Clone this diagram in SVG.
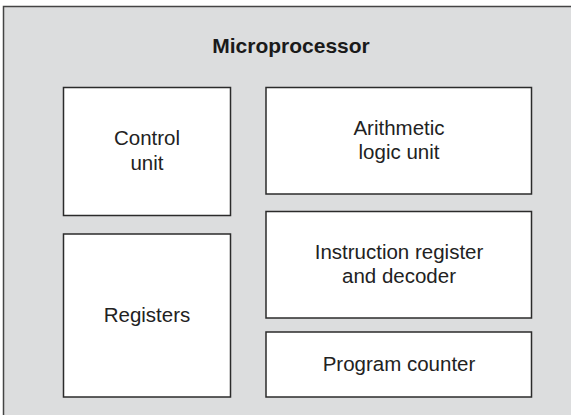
<svg xmlns="http://www.w3.org/2000/svg" width="571" height="415" viewBox="0 0 571 415">
  <style>
    .frame { fill: #dcddde; stroke: #444; stroke-width: 1.5; }
    .unit { fill: #ffffff; stroke: #2b2b2b; stroke-width: 1.5; }
    .label { font-family: "Liberation Sans", Arial, sans-serif; font-size: 20.5px; fill: #222; text-anchor: middle; }
    .title { font-family: "Liberation Sans", Arial, sans-serif; font-size: 21px; font-weight: bold; fill: #1a1a1a; text-anchor: middle; }
  </style>

  <!-- enclosing microprocessor block -->
  <g id="microprocessor">
    <rect class="frame" x="3.5" y="6.5" width="600" height="500"/>
    <text class="title" x="291" y="53">Microprocessor</text>
  </g>

  <g id="control-unit">
    <rect class="unit" x="63.5" y="87.5" width="167" height="128"/>
    <text class="label" x="147" y="145">Control</text>
    <text class="label" x="147" y="170">unit</text>
  </g>

  <g id="registers">
    <rect class="unit" x="63.5" y="234" width="167" height="163"/>
    <text class="label" x="147" y="322">Registers</text>
  </g>

  <g id="alu">
    <rect class="unit" x="266" y="87.5" width="265.5" height="106.5"/>
    <text class="label" x="399" y="135">Arithmetic</text>
    <text class="label" x="399" y="159">logic unit</text>
  </g>

  <g id="instruction-register">
    <rect class="unit" x="266" y="211.5" width="265.5" height="106.5"/>
    <text class="label" x="399" y="259">Instruction register</text>
    <text class="label" x="399" y="283">and decoder</text>
  </g>

  <g id="program-counter">
    <rect class="unit" x="266" y="332" width="265.5" height="65"/>
    <text class="label" x="399" y="371">Program counter</text>
  </g>

  <!-- no connectors between the blocks -->
  <g id="connectors"/>
</svg>
